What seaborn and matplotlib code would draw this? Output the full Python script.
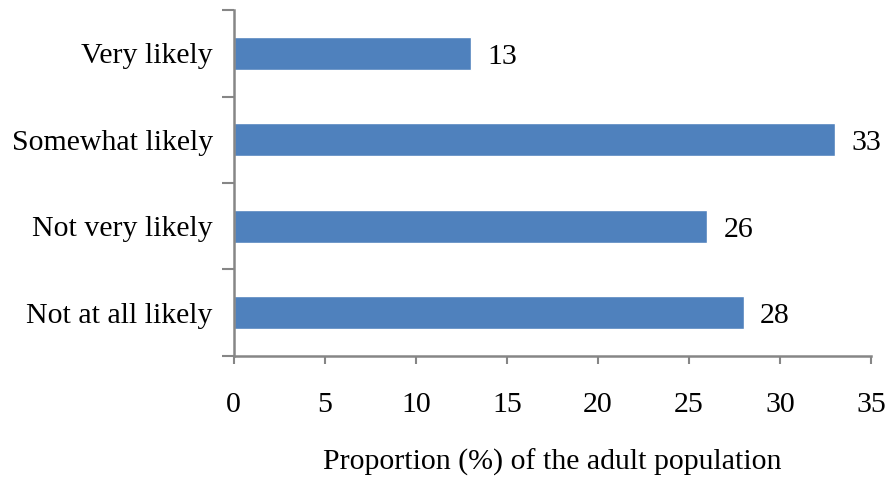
import matplotlib
matplotlib.use("Agg")
import matplotlib.pyplot as plt
import seaborn as sns
import pandas as pd

categories = ["Very likely", "Somewhat likely", "Not very likely", "Not at all likely"]
values = [13, 33, 26, 28]
x_ticks = [0, 5, 10, 15, 20, 25, 30, 35]

sns.set_style("white")
plt.rcParams["font.family"] = ["Liberation Serif", "DejaVu Serif"]
plt.rcParams["text.color"] = "black"
plt.rcParams["xtick.color"] = "black"
plt.rcParams["ytick.color"] = "black"

df = pd.DataFrame({"category": categories, "value": values})

fig = plt.figure(figsize=(8.89, 4.79), dpi=100)
ax = fig.add_axes([0.263, 0.257, 0.717, 0.722])

sns.barplot(data=df, y="category", x="value", orient="h", color="#4F81BD",
            saturation=1, width=0.38, ax=ax)

fs = 21.5
axis_grey = "#868686"
ax.set_xlim(0, 35)
ax.set_ylim(3.5, -0.5)
ax.set_xticks(x_ticks)
ax.set_xticklabels([str(t) for t in x_ticks], fontsize=fs)

# category ticks sit on the boundaries between bars
ax.set_yticks([-0.5, 0.5, 1.5, 2.5, 3.5])
ax.set_yticklabels([])
ax.set_yticks(range(len(categories)), minor=True)
ax.set_yticklabels(categories, minor=True, fontsize=fs)
ax.tick_params(axis="y", which="minor", left=False, length=0, pad=15, labelcolor="black")
ax.tick_params(axis="y", which="major", left=True, length=9, width=1.5,
               color=axis_grey, direction="out")
ax.tick_params(axis="x", bottom=True, length=6, width=1.5, color=axis_grey,
               direction="out", pad=20, labelcolor="black")

for side in ["top", "right"]:
    ax.spines[side].set_visible(False)
for side in ["left", "bottom"]:
    ax.spines[side].set_color(axis_grey)
    ax.spines[side].set_linewidth(1.8)

ax.set_ylabel("")
ax.set_xlabel("Proportion (%) of the adult population", fontsize=fs, labelpad=22,
              color="black")

for i, v in enumerate(values):
    ax.text(v + 0.9, i + 0.04, f"{v}", va="center", ha="left", fontsize=fs, color="black")

fig.savefig("out.png", dpi=100)
